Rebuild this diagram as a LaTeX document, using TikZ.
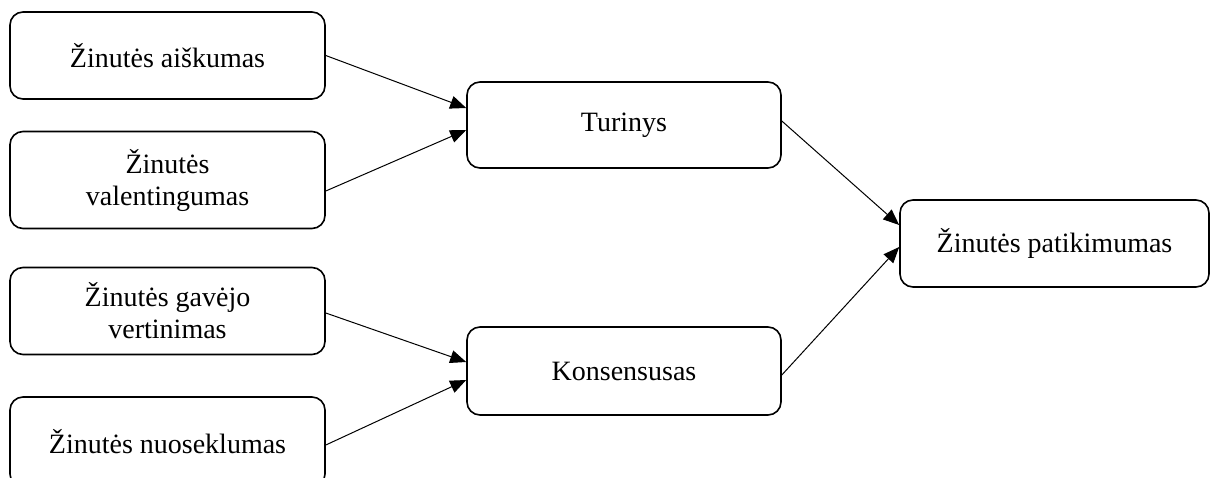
\documentclass[tikz,border=0pt]{standalone}
\usepackage{fontspec}
\setmainfont{Liberation Serif}
\usetikzlibrary{arrows.meta,calc}
\begin{document}
\begin{tikzpicture}[x=1pt,y=-1pt,
  box/.style={draw=black,line width=1.6pt,rounded corners=13pt,fill=white,
    align=center,inner sep=0pt,font=\fontsize{28}{32}\selectfont},
  link/.style={line width=1pt,-{Triangle[length=16pt,width=13pt]}}]
\useasboundingbox[fill=white] (0,0) rectangle (1212,477);
% left column
\node[box,minimum width=315pt,minimum height=87pt] (a1) at (167.5,55.5) {Žinutės aiškumas};
\node[box,minimum width=315pt,minimum height=97pt] (a2) at (167.5,180) {Žinutės\\valentingumas};
\node[box,minimum width=315pt,minimum height=87pt] (a3) at (167.5,311) {Žinutės gavėjo\\vertinimas};
\node[box,minimum width=315pt,minimum height=90pt] (a4) at (167.5,442) {Žinutės nuoseklumas};
% middle column
\node[box,minimum width=314pt,minimum height=86pt] (tur) at (624,125) {Turinys};
\node[box,minimum width=314pt,minimum height=88pt] (kon) at (624,371) {Konsensusas};
% right column
\node[box,minimum width=309pt,minimum height=87pt] (pat) at (1054.5,243.5) {Žinutės patikimumas};
% connectors
\draw[link] (a1.east) -- ($(tur.west)+(0,-17)$);
\draw[link] ($(a2.east)+(0,11)$) -- ($(tur.west)+(0,5)$);
\draw[link] ($(a3.east)+(0,2)$) -- ($(kon.west)+(0,-9)$);
\draw[link] ($(a4.east)+(0,3)$) -- ($(kon.west)+(0,9)$);
\draw[link] ($(tur.east)+(0,-4)$) -- ($(pat.west)+(0,-18.5)$);
\draw[link] ($(kon.east)+(0,4)$) -- ($(pat.west)+(0,3.5)$);
\end{tikzpicture}
\end{document}
